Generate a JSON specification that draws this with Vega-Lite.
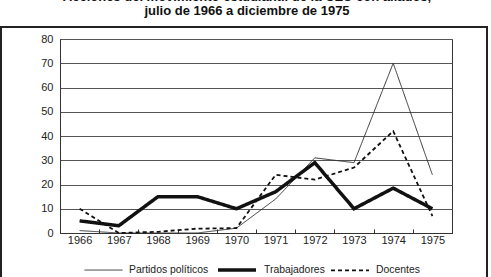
{
  "$schema": "https://vega.github.io/schema/vega-lite/v6.json",
  "autosize": "none",
  "width": 392,
  "height": 194,
  "padding": {"left": 60, "top": 39, "right": 39, "bottom": 44},
  "background": "white",
  "title": {
    "text": ["Acciones del movimiento estudiantil de la CEU con aliados,", "julio de 1966 a diciembre de 1975"],
    "font": "Liberation Sans",
    "fontSize": 13,
    "fontWeight": "bold",
    "color": "#111",
    "anchor": "middle",
    "dx": -9,
    "offset": 8,
    "lineHeight": 14.5
  },
  "config": {
    "view": {"stroke": "#333", "strokeWidth": 1},
    "axis": {"labelFont": "Liberation Sans", "labelFontSize": 11, "labelColor": "#222"},
    "legend": {"labelFont": "Liberation Sans", "labelFontSize": 10.4, "labelColor": "#222"}
  },
  "data": {
    "values": [
      {"anio": "1966", "serie": "Partidos políticos", "valor": 1},
      {"anio": "1967", "serie": "Partidos políticos", "valor": 0},
      {"anio": "1968", "serie": "Partidos políticos", "valor": 0},
      {"anio": "1969", "serie": "Partidos políticos", "valor": 0},
      {"anio": "1970", "serie": "Partidos políticos", "valor": 2},
      {"anio": "1971", "serie": "Partidos políticos", "valor": 14},
      {"anio": "1972", "serie": "Partidos políticos", "valor": 31},
      {"anio": "1973", "serie": "Partidos políticos", "valor": 29},
      {"anio": "1974", "serie": "Partidos políticos", "valor": 70},
      {"anio": "1975", "serie": "Partidos políticos", "valor": 24},
      {"anio": "1966", "serie": "Trabajadores", "valor": 5},
      {"anio": "1967", "serie": "Trabajadores", "valor": 3},
      {"anio": "1968", "serie": "Trabajadores", "valor": 15},
      {"anio": "1969", "serie": "Trabajadores", "valor": 15},
      {"anio": "1970", "serie": "Trabajadores", "valor": 10},
      {"anio": "1971", "serie": "Trabajadores", "valor": 17},
      {"anio": "1972", "serie": "Trabajadores", "valor": 29},
      {"anio": "1973", "serie": "Trabajadores", "valor": 10},
      {"anio": "1974", "serie": "Trabajadores", "valor": 18.5},
      {"anio": "1975", "serie": "Trabajadores", "valor": 10},
      {"anio": "1966", "serie": "Docentes", "valor": 10},
      {"anio": "1967", "serie": "Docentes", "valor": 0},
      {"anio": "1968", "serie": "Docentes", "valor": 0.5},
      {"anio": "1969", "serie": "Docentes", "valor": 1.8},
      {"anio": "1970", "serie": "Docentes", "valor": 2},
      {"anio": "1971", "serie": "Docentes", "valor": 24},
      {"anio": "1972", "serie": "Docentes", "valor": 22},
      {"anio": "1973", "serie": "Docentes", "valor": 27},
      {"anio": "1974", "serie": "Docentes", "valor": 42},
      {"anio": "1975", "serie": "Docentes", "valor": 7}
    ]
  },
  "layer": [
    {
      "mark": {"type": "line", "strokeJoin": "miter", "strokeCap": "butt"},
      "encoding": {
        "x": {
          "field": "anio", "type": "ordinal",
          "scale": {"type": "band", "paddingInner": 0, "paddingOuter": 0},
          "axis": {
            "title": null, "labelAngle": 0, "tickBand": "extent", "tickSize": -4,
            "tickColor": "#333", "domainColor": "#333", "labelPadding": 5, "grid": false
          }
        },
        "y": {
          "field": "valor", "type": "quantitative",
          "scale": {"domain": [0, 80], "nice": false},
          "axis": {
            "title": null, "values": [0, 10, 20, 30, 40, 50, 60, 70, 80], "ticks": false,
            "labelPadding": 7, "grid": true, "gridColor": "#555", "gridWidth": 1,
            "domainColor": "#333"
          }
        },
        "color": {
          "field": "serie", "type": "nominal",
          "scale": {"domain": ["Partidos políticos", "Trabajadores", "Docentes"], "range": ["#333", "#111", "#111"]},
          "legend": {
            "title": null, "orient": "none", "legendX": 24, "legendY": 210, "direction": "horizontal",
            "symbolType": "stroke", "symbolSize": 1444, "columnPadding": 2, "labelOffset": 6
          }
        },
        "strokeWidth": {
          "field": "serie", "type": "nominal",
          "scale": {"type": "ordinal", "domain": ["Partidos políticos", "Trabajadores", "Docentes"], "range": [1, 3.5, 1.8]},
          "legend": null
        },
        "strokeDash": {
          "field": "serie", "type": "nominal",
          "scale": {"domain": ["Partidos políticos", "Trabajadores", "Docentes"], "range": [[1, 0], [1, 0], [4, 3]]},
          "legend": null
        }
      }
    },
    {
      "data": {"values": [{}]},
      "mark": {"type": "rect", "fill": null, "stroke": "#222", "strokeWidth": 2, "x": -59, "x2": 427, "y": -12, "y2": 260},
      "encoding": {}
    }
  ]
}
